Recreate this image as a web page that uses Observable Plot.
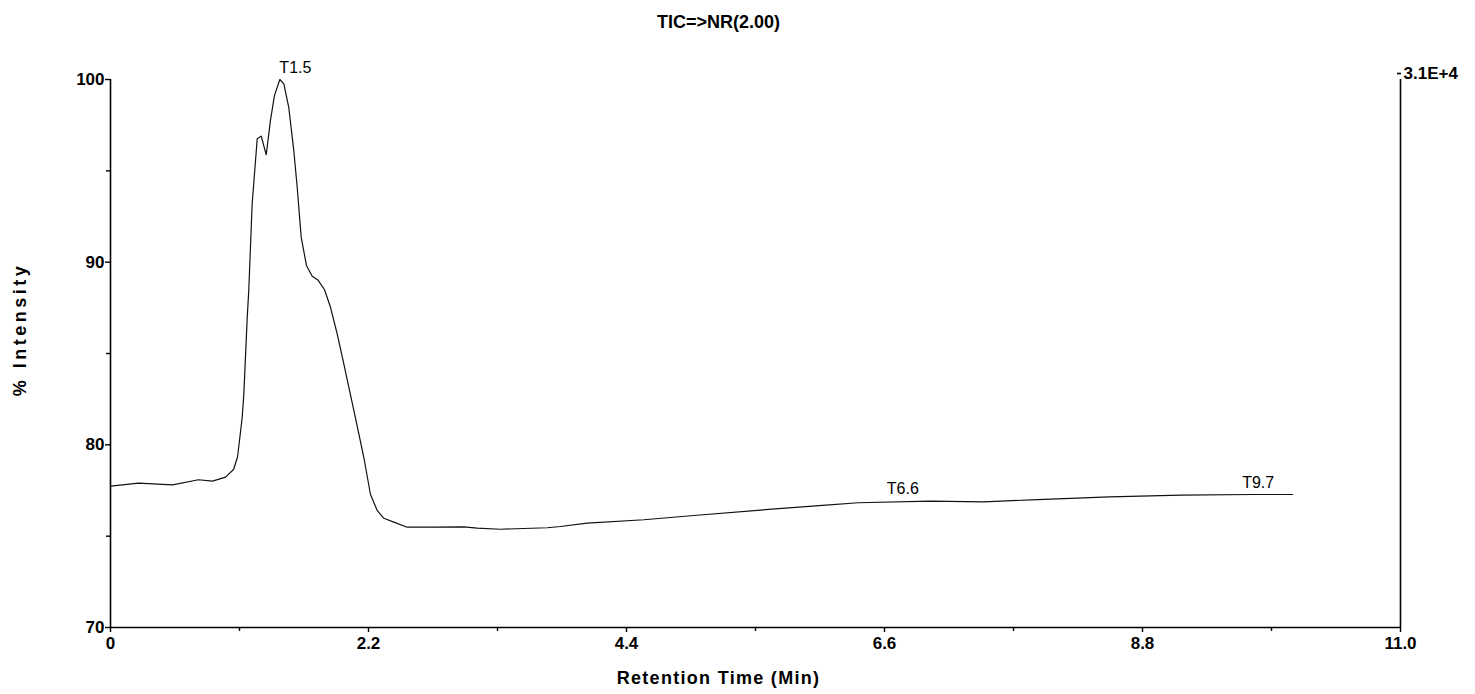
<!DOCTYPE html>
<html>
<head>
<meta charset="utf-8">
<script src="https://cdn.jsdelivr.net/npm/d3@7"></script>
<script src="https://cdn.jsdelivr.net/npm/@observablehq/plot@0.6"></script>
<style>
  html, body { margin: 0; padding: 0; background: #fff; }
  #chart { width: 1475px; height: 694px; }
</style>
</head>
<body>
<div id="chart"></div>
<script>
// Retention time (min)
const times = [0, 0.239, 0.529, 0.750, 0.870, 0.981, 1.049, 1.083, 1.100, 1.123, 1.137, 1.166, 1.179, 1.208, 1.251, 1.285, 1.328, 1.364, 1.398, 1.444, 1.478, 1.520, 1.563, 1.592, 1.626, 1.671, 1.720, 1.768, 1.825, 1.876, 1.933, 1.989, 2.075, 2.160, 2.217, 2.274, 2.331, 2.416, 2.530, 2.757, 3.013, 3.127, 3.326, 3.724, 3.837, 4.065, 4.548, 4.974, 5.543, 6.07, 6.376, 6.988, 7.447, 7.905, 8.519, 9.130, 9.742, 10.08];
// % Intensity
const intensities = [77.74, 77.90, 77.81, 78.09, 78.01, 78.23, 78.65, 79.32, 80.24, 81.51, 82.79, 86.99, 88.45, 93.20, 96.75, 96.90, 95.88, 97.76, 99.12, 100.0, 99.76, 98.48, 96.11, 94.10, 91.37, 89.82, 89.23, 89.03, 88.49, 87.53, 86.08, 84.44, 81.88, 79.32, 77.28, 76.41, 75.98, 75.77, 75.49, 75.49, 75.51, 75.44, 75.38, 75.46, 75.53, 75.71, 75.90, 76.13, 76.43, 76.69, 76.83, 76.92, 76.88, 77.0, 77.15, 77.25, 77.28, 77.28];

const peakLabels = ["T1.5", "T6.6", "T9.7"];
const peakTimes = [1.44, 6.62, 9.65];
const peakValues = [100.0, 76.92, 77.28];

const xMajorTicks = [0, 2.2, 4.4, 6.6, 8.8, 11.0];
const xMajorLabels = ["0", "2.2", "4.4", "6.6", "8.8", "11.0"];
const xMinorTicks = [1.1, 3.3, 5.5, 7.7, 9.9];
const yMajorTicks = [70, 80, 90, 100];
const yMinorTicks = [75, 85, 95];
const rightAxisLabel = "3.1E+4";

const titleText = "TIC=>NR(2.00)";
const xLabel = "Retention Time (Min)";
const yLabel = "% Intensity";

const trace = times.map((t, i) => ({t, v: intensities[i]}));
const peaks = peakLabels.map((s, i) => ({s, t: peakTimes[i], v: peakValues[i]}));

const boldFont = "'Liberation Sans', Arial, sans-serif";

const chart = Plot.plot({
  width: 1475,
  height: 694,
  marginLeft: 110,
  marginRight: 75,
  marginTop: 79,
  marginBottom: 67,
  style: {fontFamily: "'Liberation Sans', Arial, sans-serif", background: "#fff", color: "#000", overflow: "visible"},
  x: {domain: [0, 11]},
  y: {domain: [70, 100]},
  marks: [
    // axis lines
    Plot.ruleX([0, 11], {stroke: "#000", strokeWidth: 1.6}),
    Plot.ruleY([70], {stroke: "#000", strokeWidth: 1.6}),
    // x axis
    Plot.axisX({ticks: xMajorTicks, tickSize: 5, tickPadding: 4, tickFormat: (d, i) => xMajorLabels[i],
      fontSize: 17, fontWeight: "bold", fontFamily: boldFont, label: null, strokeWidth: 1.4}),
    Plot.axisX({ticks: xMinorTicks, tickSize: 4, tickFormat: () => "", label: null, strokeWidth: 1.4}),
    // y axis
    Plot.axisY({ticks: yMajorTicks, tickSize: 5, tickPadding: 1, fontSize: 17, fontWeight: "bold", fontFamily: boldFont, label: null, strokeWidth: 1.4}),
    Plot.axisY({ticks: yMinorTicks, tickSize: 4, tickFormat: () => "", label: null, strokeWidth: 1.4}),
    // right axis
    Plot.axisY({anchor: "right", ticks: [100], tickSize: -4, tickPadding: 7, tickFormat: () => rightAxisLabel,
      fontSize: 17, fontWeight: "bold", fontFamily: boldFont, dy: -6, label: null, strokeWidth: 1.6}),
    // trace
    Plot.line(trace, {x: "t", y: "v", stroke: "#111", strokeWidth: 1.2}),
    // peak labels
    Plot.text(peaks, {x: "t", y: "v", text: "s", textAnchor: "start", dy: -12, fontSize: 16, fill: "#000"}),
    // title
    Plot.text([titleText], {frameAnchor: "top", textAnchor: "middle", lineAnchor: "middle", dy: -57, dx: -37, fontSize: 18, fontWeight: "bold", fontFamily: boldFont, fill: "#000"}),
    // x label
    Plot.text([xLabel], {frameAnchor: "bottom", textAnchor: "middle", lineAnchor: "middle", dy: 51, dx: -37, fontSize: 18, fontWeight: "bold", fontFamily: boldFont, fill: "#000"}),
    // y label
    Plot.text([yLabel], {frameAnchor: "left", textAnchor: "middle", lineAnchor: "middle", dx: -90, dy: -24, rotate: -90, fontSize: 18, fontWeight: "bold", fill: "#000"})
  ]
});
document.getElementById("chart").appendChild(chart);
// letter spacing for axis titles
d3.select(chart).selectAll("text").each(function() {
  const t = this.textContent;
  if (t === yLabel) this.setAttribute("letter-spacing", "3.5px");
  if (t === xLabel) this.setAttribute("letter-spacing", "1.3px");
});
</script>
</body>
</html>
